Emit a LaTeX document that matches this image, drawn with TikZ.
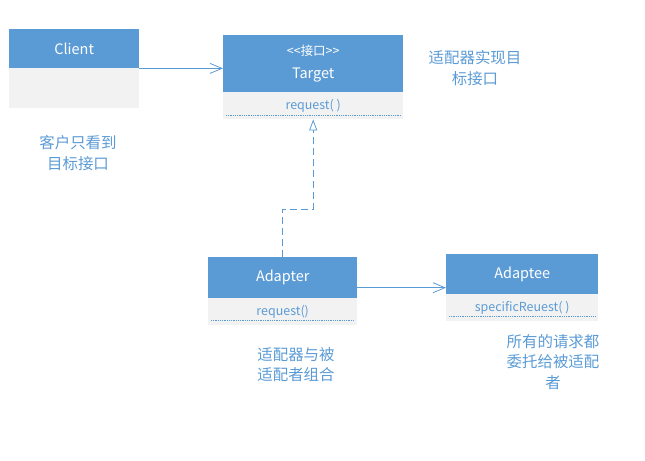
\documentclass[tikz,border=0pt]{standalone}
\usepackage{fontspec}
\setmainfont{Noto Sans CJK SC}
\usetikzlibrary{arrows.meta}
\definecolor{umlblue}{HTML}{5B9BD5}
\definecolor{umlgray}{HTML}{F2F2F2}
\begin{document}
\begin{tikzpicture}[x=1bp,y=-1bp,
  head/.style={fill=umlblue,text=white,anchor=north west,inner sep=0pt,align=center,font=\fontsize{14.5}{16}\selectfont},
  body/.style={fill=umlgray,text=umlblue,anchor=north west,inner sep=0pt,font=\fontsize{12.5}{14}\selectfont},
  note/.style={text=umlblue,align=center,font=\fontsize{15.5}{20.5}\selectfont},
  ops/.style={umlblue,line width=.8bp,densely dotted},
  assoc/.style={umlblue,line width=.8bp,-{Straight Barb[length=12bp,width=10bp]}},
  realize/.style={umlblue,line width=.8bp,dash pattern=on 7bp off 4bp,-{Triangle[open,length=11bp,width=8bp]}}]
\useasboundingbox (0,0) rectangle (645,461);
% classes
\node[head,minimum width=130bp,minimum height=39bp] (client) at (9,29) {Client};
\node[body,minimum width=130bp,minimum height=40bp] (clientbody) at (9,68) {};
\node[head,minimum width=180bp,minimum height=57bp] (target) at (223,35) {{\fontsize{12.5}{14}\selectfont <\kern0pt<接口>\kern0pt>}\\[7bp]Target};
\node[body,minimum width=180bp,minimum height=27bp] (targetbody) at (223,92) {request( )};
\node[head,minimum width=149bp,minimum height=41bp] (adapter) at (208,257) {Adapter};
\node[body,minimum width=149bp,minimum height=27bp] (adapterbody) at (208,298) {request()};
\node[head,minimum width=152bp,minimum height=40bp] (adaptee) at (446,254) {Adaptee};
\node[body,minimum width=152bp,minimum height=27bp] (adapteebody) at (446,294) {specificReuest( )};
\draw[ops] ([shift={(3bp,4bp)}]targetbody.south west) -- ([shift={(-3bp,4bp)}]targetbody.south east);
\draw[ops] ([shift={(3bp,5bp)}]adapterbody.south west) -- ([shift={(-3bp,5bp)}]adapterbody.south east);
\draw[ops] ([shift={(3bp,5bp)}]adapteebody.south west) -- ([shift={(-3bp,5bp)}]adapteebody.south east);
% notes
\node[note] (seen) at (78,153) {客户只看到\\目标接口};
\node[note] (impl) at (475,68) {适配器实现目\\标接口};
\node[note] (compose) at (296,364.5) {适配器与被\\适配者组合};
\node[note] (delegate) at (553,362) {所有的请求都\\委托给被适配\\者};
% connectors
\draw[assoc] (client.south east) -- (client.south east -| target.west);
\draw[assoc] ([yshift=-10bp]adapter.east) -- ([yshift=-10bp]adapter.east -| adaptee.west);
\draw[realize] (adapter.north) -- ++(0,-48) -| (targetbody.south);
\end{tikzpicture}
\end{document}
